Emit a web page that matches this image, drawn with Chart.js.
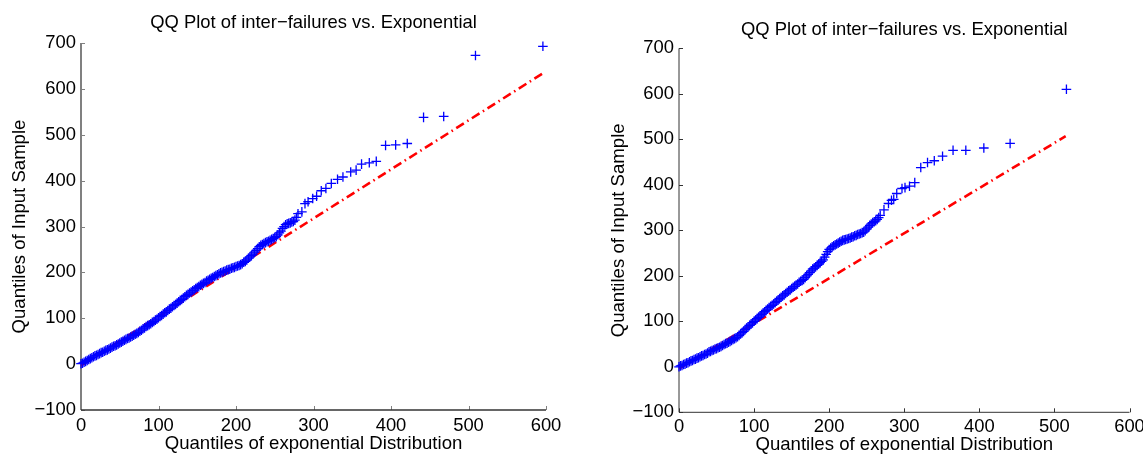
<!DOCTYPE html>
<html><head><meta charset="utf-8">
<script src="https://cdn.jsdelivr.net/npm/chart.js@4.4.0/dist/chart.umd.min.js"></script>
<style>
html,body{margin:0;padding:0;background:#fff;overflow:hidden;width:1143px;height:456px;position:relative;}
#c1{position:absolute;left:0;top:0;}
#c2{position:absolute;left:590px;top:0;}
</style></head><body>
<canvas id="c1" width="590" height="456"></canvas>
<canvas id="c2" width="570" height="470"></canvas>
<script>
// ---------- DATA ----------
const chartTitle = "QQ Plot of inter\u2212failures vs. Exponential";
const xAxisTitle = "Quantiles of exponential Distribution";
const yAxisTitle = "Quantiles of Input Sample";
const xTicks = [0, 100, 200, 300, 400, 500, 600];
const xTickLabels = ["0", "100", "200", "300", "400", "500", "600"];
const yTicks = [-100, 0, 100, 200, 300, 400, 500, 600, 700];
const yTickLabels = ["\u2212100", "0", "100", "200", "300", "400", "500", "600", "700"];

// Left plot: sample quantiles (blue +)
const leftSampleX = [
  0,2,4,6,8,10,12,14,16,18, 20,22,24,26,28,30,32,34,36,38, 40,42,44,46,48,50,52,54,56,58,
  60,62,64,66,68,70,72,74,76,78, 80,82,84,86,88,90,92,94,96,98, 100,102,104,106,108,110,112,114,116,118,
  120,122,124,126,128,130,132,134,136,138, 140,142,144,146,148,150,152,154,156,158,
  160,162,164,166,168,170,172,174,176,178, 180,182,184,186,188,190,192,194,196,198,
  200,202,204,206,208,210,212,214,216,218, 220,222,224,226,228,230,232,234,236,238,
  240,242,244,246,248,250,252,254,256,258, 260,262,264,266,268,270,272,274,276,278, 280,
  285,289,293,299,304,310,316,323,331,338,348,355,362,372,381,393,406,421,442,468,509,596];
const leftSampleY = [
  1,2,4,6,8,10,12,14,16,18, 19,21,23,25,26,28,30,31,33,35, 37,39,40,42,44,46,48,50,52,54,
  56,57,59,61,63,65,67,69,72,74, 77,79,82,84,86,88,91,93,96,98, 101,104,106,109,112,114,117,120,122,125,
  128,130,133,136,139,141,144,147,150,152, 155,157,160,162,165,167,169,172,174,176,
  178,181,183,185,187,189,191,193,195,197, 199,200,202,203,205,206,207,209,210,211,
  213,214,215,217,219,222,224,227,231,234, 237,240,244,248,252,256,259,261,263,265,
  267,268,270,272,274,276,278,282,286,290, 296,300,304,306,307,308,310,311,314,320, 328,
  332,350,354,361,366,378,383,394,403,408,419,423,436,439,442,477,478,481,538,540,673,693];
// Left plot: reference line (red dash-dot)
const leftRefX = [0, 595];
const leftRefY = [-3, 633];

// Right plot: sample quantiles (blue +)
const rightSampleX = [
  0,2,4,6,8,10,12,14,16,18, 20,22,24,26,28,30,32,34,36,38, 40,42,44,46,48,50,52,54,56,58,
  60,62,64,66,68,70,72,74,76,78, 80,82,84,86,88,90,92,94,96,98, 100,102,104,106,108,110,112,114,116,118,
  120,122,124,126,128,130,132,134,136,138, 140,142,144,146,148,150,152,154,156,158,
  160,162,164,166,168,170,172,174,176,178, 180,182,184,186,188,190,192,194,196,198,
  200,202,204,206,208,210,212,214,216,218, 220,222,224,226,228,230,232,234,236,238,
  240,242,244,246,248,250,252,254,256,258, 260,262,264,266,268,
  273,279,283,286,290,297,301,307,314,322,331,340,351,365,382,406,441,516];
const rightSampleY = [
  0,2,3,5,6,8,9,11,13,14, 16,17,19,20,22,24,25,27,28,30, 33,34,36,37,39,40,42,43,45,47,
  49,51,52,54,56,58,60,62,64,66, 69,72,75,78,82,85,88,91,94,97, 100,103,106,109,112,115,118,121,124,127,
  130,133,135,138,141,144,147,150,153,156, 158,161,164,167,169,172,175,177,180,182,
  186,188,190,192,196,200,203,207,211,215, 217,220,223,226,229,232,235,241,247,253,
  258,261,264,266,268,270,272,274,276,278, 279,280,281,282,283,285,286,288,289,291,
  292,293,295,296,299,303,307,311,314,317, 319,321,324,328,333,
  345,359,366,368,381,392,394,397,405,438,449,453,463,476,476,481,491,610];
// Right plot: reference line (red dash-dot)
const rightRefX = [0, 515];
const rightRefY = [-4, 507];

// ---------- RENDERING ----------
Chart.defaults.font.family = "'Liberation Sans', Arial, Helvetica, sans-serif";
Chart.defaults.color = '#000';

const pairs = (xs, ys) => xs.map((x, i) => ({x: x, y: ys[i]}));

const axesPlugin = {
  id: 'matlabAxes',
  beforeDatasetsDraw(chart, args, o) {
    const {ctx, chartArea: a} = chart;
    const xs = chart.scales.x, ys = chart.scales.y;
    ctx.save();
    ctx.strokeStyle = o.tickColor; ctx.lineWidth = 1;
    ctx.beginPath();
    xTicks.forEach(v => {
      const p = Math.round(xs.getPixelForValue(v)) + 0.5;
      ctx.moveTo(p, a.bottom); ctx.lineTo(p, a.bottom - o.tickLen);
    });
    yTicks.forEach(v => {
      const p = Math.round(ys.getPixelForValue(v)) + 0.5;
      ctx.moveTo(a.left, p); ctx.lineTo(a.left + o.tickLen, p);
    });
    ctx.stroke();
    ctx.strokeStyle = o.yColor; ctx.lineWidth = o.yWidth;
    ctx.beginPath(); ctx.moveTo(a.left, a.top); ctx.lineTo(a.left, a.bottom); ctx.stroke();
    ctx.strokeStyle = o.xColor; ctx.lineWidth = o.xWidth;
    ctx.beginPath(); ctx.moveTo(a.left, a.bottom); ctx.lineTo(a.right, a.bottom); ctx.stroke();
    ctx.restore();
  }
};

function makeChart(id, sx, sy, rx, ry, g) {
  return new Chart(document.getElementById(id), {
    type: 'scatter',
    data: {
      datasets: [
        {
          type: 'scatter', data: pairs(sx, sy), order: 0, clip: false,
          pointStyle: 'cross', pointRadius: 4.8, pointHoverRadius: 4.8,
          borderColor: '#0000ff', backgroundColor: '#0000ff', borderWidth: 1.3
        },
        {
          type: 'line', data: pairs(rx, ry), order: 1,
          borderColor: '#ff0000', borderWidth: 2.6, borderDash: [9, 4, 1.5, 4],
          pointRadius: 0, fill: false, tension: 0
        }
      ]
    },
    options: {
      responsive: false, animation: false, events: [],
      layout: {padding: {left: 0, top: 0, bottom: 0, right: g.padRight}},
      plugins: {
        legend: {display: false}, tooltip: {enabled: false},
        title: {
          display: true, text: chartTitle, fullSize: false, color: '#000',
          font: {size: 18.4, weight: 'normal'},
          padding: {top: g.titleTop, bottom: g.titleBottom}
        },
        matlabAxes: g.axes
      },
      scales: {
        x: {
          type: 'linear', min: 0, max: 600,
          afterBuildTicks: s => { s.ticks = xTicks.map(v => ({value: v})); },
          afterFit: s => { s.height = g.xHeight; },
          grid: {display: false, drawTicks: false}, border: {display: false},
          ticks: {
            autoSkip: false, maxRotation: 0, padding: g.xTickPad, color: '#000',
            font: {size: 18.4},
            callback: (v) => xTickLabels[xTicks.indexOf(v)]
          },
          title: {display: true, text: xAxisTitle, color: '#000', font: {size: 18.6},
                  padding: {top: 0, bottom: g.xTitlePad}}
        },
        y: {
          type: 'linear', min: -100, max: 700,
          afterBuildTicks: s => { s.ticks = yTicks.map(v => ({value: v})); },
          afterFit: s => { s.width = g.yWidth; },
          grid: {display: false, drawTicks: false}, border: {display: false},
          ticks: {
            autoSkip: false, padding: 5, color: '#000', font: {size: 18.4},
            callback: (v) => yTickLabels[yTicks.indexOf(v)]
          },
          title: {display: true, text: yAxisTitle, color: '#000', font: {size: 18.6},
                  padding: {top: g.yTitlePad, bottom: 0}}
        }
      }
    },
    plugins: [axesPlugin]
  });
}

makeChart('c1', leftSampleX, leftSampleY, leftRefX, leftRefY, {
  padRight: 44, titleTop: 11.8, titleBottom: 9.2, xHeight: 46, yWidth: 81,
  xTickPad: 5.3, xTitlePad: 1, yTitlePad: 8.8,
  axes: {tickColor: '#808080', tickLen: 4, yColor: '#808080', yWidth: 2, xColor: '#333333', xWidth: 1.3}
});
makeChart('c2', rightSampleX, rightSampleY, rightRefX, rightRefY, {
  padRight: 30.5, titleTop: 19, titleBottom: 7.3, xHeight: 57.7, yWidth: 89,
  xTickPad: 3.8, xTitlePad: 13.5, yTitlePad: 17.8,
  axes: {tickColor: '#333333', tickLen: 4, yColor: '#333333', yWidth: 1, xColor: '#333333', xWidth: 1}
});
</script>
</body></html>
